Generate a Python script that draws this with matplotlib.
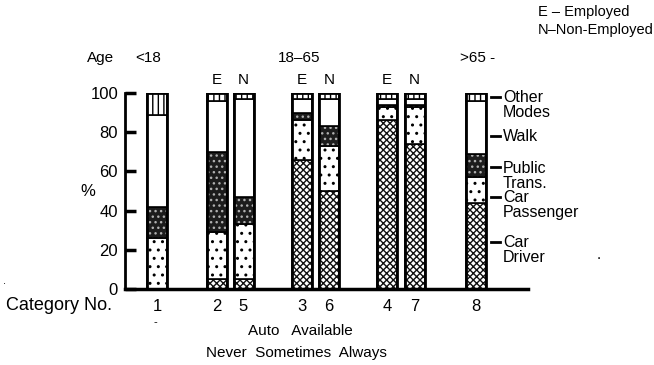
import matplotlib
matplotlib.use("Agg")
import matplotlib.pyplot as plt

plt.rcParams['font.family'] = ['Liberation Sans', 'DejaVu Sans']
plt.rcParams['hatch.linewidth'] = 1.0

# category numbers in the order they are drawn, left to right
categories = ['1', '2', '5', '3', '6', '4', '7', '8']
# share of trips (%) by mode for each category
car_driver = [0, 5, 5, 66, 50, 86, 74, 44]
car_passenger = [26, 24, 28, 20, 23, 7, 19, 13]
public_trans = [16, 41, 14, 4, 10, 1, 1, 12]
walk = [47, 26, 50, 7, 14, 3, 3, 27]
other_modes = [11, 4, 3, 3, 3, 3, 3, 4]
employment = ['', 'E', 'N', 'E', 'N', 'E', 'N', '']

# bar centres (pixel offsets from the y axis)
bar_x = [32, 91.5, 118.5, 177, 204, 262, 289.5, 351]
bar_w = 20

W, H = 654, 365
fig = plt.figure(figsize=(W / 100, H / 100), dpi=100)
ax = fig.add_axes([125 / W, 1 - 289 / H, (528 - 125) / W, (289 - 93) / H])


def ftext(x, y, s, **kw):
    # place text by pixel position on the figure
    kw.setdefault('fontsize', 11)
    kw.setdefault('va', 'center')
    fig.text(x / W, 1 - y / H, s, **kw)


# (values, face, hatch colour, hatch)
segments = [
    (car_driver, 'white', '#111111', 'xxxxx'),
    (car_passenger, 'white', 'black', '..'),
    (public_trans, '#1c1c1c', '#b0b0b0', '...'),
    (walk, 'white', 'black', ''),
    (other_modes, 'white', 'black', '|||'),
]

bottom = [0] * len(categories)
for vals, face, hcol, hatch in segments:
    ax.bar(bar_x, vals, bar_w, bottom=bottom, color=face, edgecolor=hcol,
           hatch=hatch, linewidth=0)
    ax.bar(bar_x, vals, bar_w, bottom=bottom, fill=False, edgecolor='black',
           linewidth=1.2)
    bottom = [b + v for b, v in zip(bottom, vals)]

# heavy outline round each full bar
ax.bar(bar_x, bottom, bar_w, fill=False, edgecolor='black', linewidth=2)

ax.set_xlim(0, 403)
ax.set_ylim(0, 100)
ax.set_yticks([0, 20, 40, 60, 80, 100])
ax.tick_params(axis='y', direction='in', length=8, width=2.5, pad=5, labelsize=12)
ax.set_xticks(bar_x, labels=categories)
ax.tick_params(axis='x', length=0, pad=7, labelsize=12)
for s in ['top', 'right']:
    ax.spines[s].set_visible(False)
ax.spines['left'].set_linewidth(2)
ax.spines['bottom'].set_linewidth(2.5)

# E / N above the bars
for x, lab in zip(bar_x, employment):
    if lab:
        ax.text(x, 103, lab, ha='center', va='bottom', fontsize=11)

# mode labels on the right
mode_labels = [(98, 'Other\nModes'), (78, 'Walk'), (62, 'Public\nTrans.'),
               (47, 'Car\nPassenger'), (24, 'Car\nDriver')]
for yv, lab in mode_labels:
    ax.plot([366, 375], [yv, yv], color='black', lw=2, clip_on=False)
    ax.text(378, yv + 3.5, lab, ha='left', va='top', fontsize=11.5,
            linespacing=1.0, transform=ax.transData)

ftext(538, 12, 'E – Employed', fontsize=10.5)
ftext(538, 30, 'N–Non-Employed', fontsize=10.5)
ftext(87, 58, 'Age')
ftext(135, 58, '<18')
ftext(278, 58, '18–65')
ftext(460, 58, '>65 -')
ftext(80, 192, '%', fontsize=12)
ftext(6, 306, 'Category No.', fontsize=13)
ftext(300, 331, 'Auto   Available', ha='center')
ftext(296, 353, 'Never  Sometimes  Always', ha='center')
# specks from the scanned original
ftext(597, 255, '.', fontsize=11)
ftext(155, 322, '-', fontsize=8, ha='center')
ftext(3, 281, '.', fontsize=8)

fig.savefig('out.png', dpi=100)
